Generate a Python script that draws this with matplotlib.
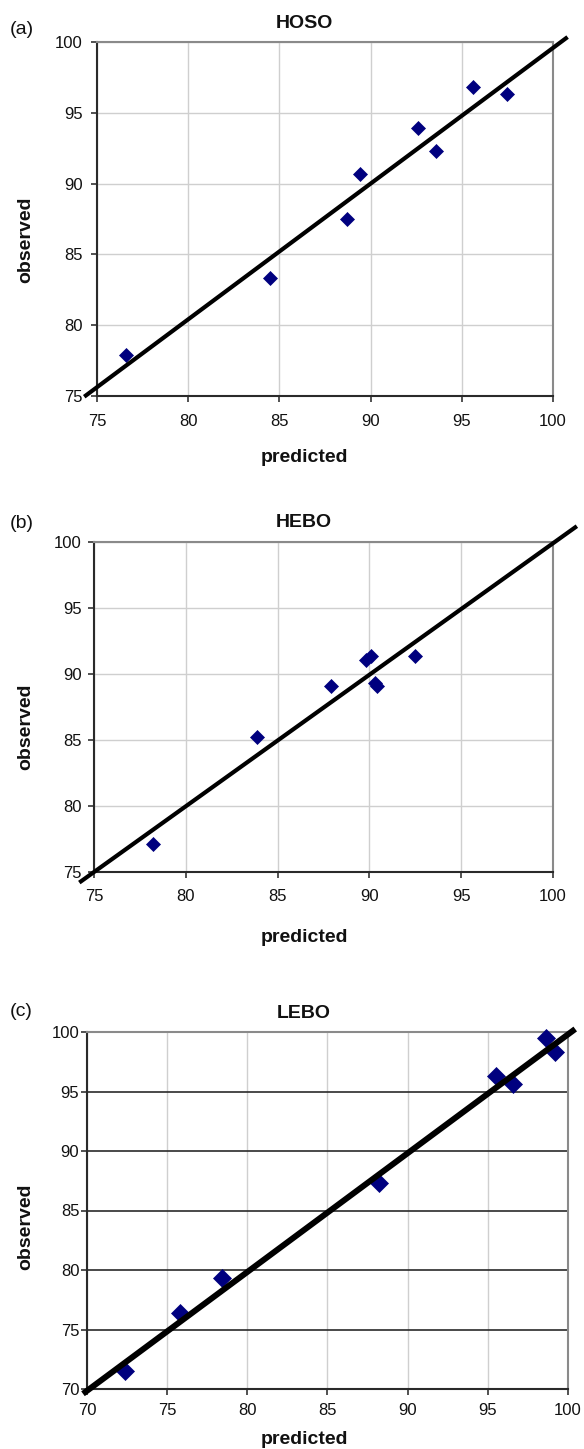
import matplotlib
matplotlib.use("Agg")
import matplotlib.pyplot as plt

plt.rcParams['font.family'] = ['Liberation Sans', 'DejaVu Sans']

# ---- data ----
panel_labels = ["(a)", "(b)", "(c)"]
titles = ["HOSO", "HEBO", "LEBO"]

hoso_pred = [76.6, 84.5, 88.7, 89.4, 92.6, 93.6, 95.6, 97.5]
hoso_obs = [77.9, 83.3, 87.5, 90.7, 93.9, 92.3, 96.8, 96.3]
hoso_line_x = [74.3, 100.8]
hoso_line_y = [74.95, 100.35]

hebo_pred = [78.2, 83.9, 87.9, 89.8, 90.1, 90.3, 90.4, 92.5]
hebo_obs = [77.1, 85.2, 89.1, 91.05, 91.4, 89.3, 89.1, 91.4]
hebo_line_x = [74.2, 101.3]
hebo_line_y = [74.2, 101.2]

lebo_pred = [72.4, 75.8, 78.4, 88.2, 95.5, 96.6, 98.6, 99.2]
lebo_obs = [71.5, 76.4, 79.3, 87.3, 96.3, 95.6, 99.5, 98.3]
lebo_line_x = [69.75, 100.45]
lebo_line_y = [69.6, 100.25]

ticks_ab = [75, 80, 85, 90, 95, 100]
ticks_c = [70, 75, 80, 85, 90, 95, 100]

W, H = 584, 1449
fig = plt.figure(figsize=(W / 100, H / 100), dpi=100)

def fx(px):
    return px / W

def fy(py):
    return 1 - py / H

specs = [
    dict(box=(97, 553, 42, 396), x=hoso_pred, y=hoso_obs, lx=hoso_line_x, ly=hoso_line_y,
         ticks=ticks_ab, lim=(75, 100), ms=7.4, lw=3.0, ypad=5.8, xpad=8.5, hgrid='#cfcfcf',
         lab_y=29, title_y=23, xl_y=458, yl_y=240),
    dict(box=(94, 553, 542, 872), x=hebo_pred, y=hebo_obs, lx=hebo_line_x, ly=hebo_line_y,
         ticks=ticks_ab, lim=(75, 100), ms=7.4, lw=3.0, ypad=4.2, xpad=8.0, hgrid='#cfcfcf',
         lab_y=524, title_y=523, xl_y=938, yl_y=727),
    dict(box=(87, 568, 1032, 1389), x=lebo_pred, y=lebo_obs, lx=lebo_line_x, ly=lebo_line_y,
         ticks=ticks_c, lim=(70, 100), ms=9.2, lw=4.3, ypad=1.0, xpad=5.3, hgrid='#2a2a2a',
         lab_y=1012, title_y=1014, xl_y=1439, yl_y=1227),
]

for i, s in enumerate(specs):
    l, r, t, b = s['box']
    ax = fig.add_axes([fx(l), fy(b), (r - l) / W, (b - t) / H])
    ax.set_xlim(*s['lim'])
    ax.set_ylim(*s['lim'])
    ax.set_xticks(s['ticks'])
    ax.set_yticks(s['ticks'])
    ax.set_xticklabels([str(v) for v in s['ticks']])
    ax.set_yticklabels([str(v) for v in s['ticks']])
    ax.tick_params(axis='both', direction='out', length=4.5, width=1.2, color='#333333',
                   labelsize=12, labelcolor='#111111')
    ax.tick_params(axis='y', pad=s['ypad'])
    ax.tick_params(axis='x', pad=s['xpad'])
    ax.set_axisbelow(True)
    ax.xaxis.grid(True, color='#cfcfcf', linewidth=1.0)
    ax.yaxis.grid(True, color=s['hgrid'], linewidth=1.0 if i < 2 else 1.2)
    for side in ['left', 'bottom']:
        ax.spines[side].set_color('#2a2a2a')
        ax.spines[side].set_linewidth(1.5)
    for side in ['top', 'right']:
        ax.spines[side].set_color('#8a8a8a')
        ax.spines[side].set_linewidth(1.5)
    ax.plot(s['x'], s['y'], linestyle='none', marker='D', markersize=s['ms'],
            markerfacecolor='#00007f', markeredgecolor='#00007f', markeredgewidth=0.5,
            zorder=3, clip_on=False)
    ax.plot(s['lx'], s['ly'], color='black', linewidth=s['lw'], solid_capstyle='butt',
            zorder=4, clip_on=False)

    fig.text(fx(10), fy(s['lab_y']), panel_labels[i], fontsize=14, ha='left', va='center',
             color='#111111')
    fig.text(fx(304), fy(s['title_y']), titles[i], fontsize=14, fontweight='bold',
             ha='center', va='center', color='#111111')
    fig.text(fx(304), fy(s['xl_y']), 'predicted', fontsize=14, fontweight='bold',
             ha='center', va='center', color='#111111')
    fig.text(fx(26), fy(s['yl_y']), 'observed', fontsize=14, fontweight='bold',
             ha='center', va='center', rotation=90, color='#111111')

fig.savefig('out.png', dpi=100)
